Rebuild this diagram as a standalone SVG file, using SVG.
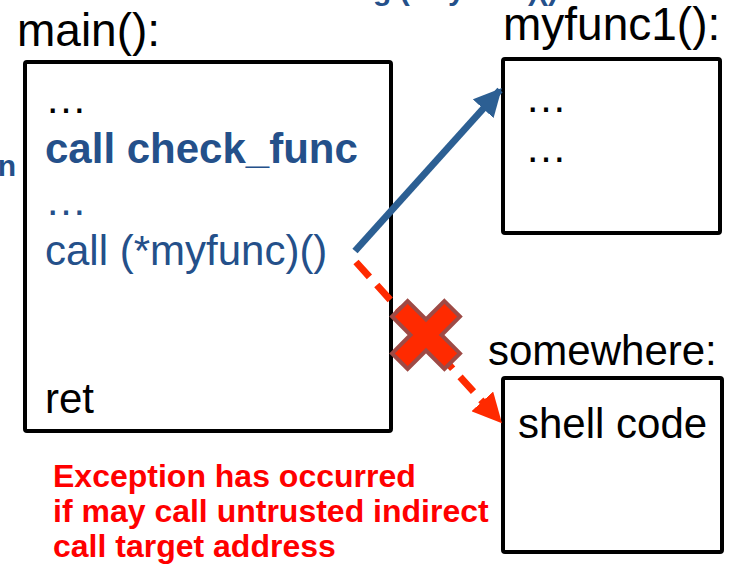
<svg xmlns="http://www.w3.org/2000/svg" width="756" height="567" viewBox="0 0 756 567">
<style>
  .box { fill: #ffffff; stroke: #000000; stroke-width: 4; }
  .lbl { font-family: "Liberation Sans", Arial, sans-serif; font-size: 42px; fill: #000000; }
  .big { font-size: 46px; }
  .code { font-family: "Liberation Sans", Arial, sans-serif; font-size: 42px; fill: #24508A; }
  .bold { font-weight: bold; }
  .warn { font-family: "Liberation Sans", Arial, sans-serif; font-size: 32px; font-weight: bold; fill: #FF0000; }
  .side { font-family: "Liberation Sans", Arial, sans-serif; font-size: 30px; font-weight: bold; fill: #24508A; }
</style>
<defs>
  <marker id="arrBlue" viewBox="0 0 10 10" refX="9" refY="5" markerWidth="4" markerHeight="4" orient="auto" markerUnits="strokeWidth">
    <path d="M0,0 L10,5 L0,10 z" fill="#2C5F93"/>
  </marker>
  <marker id="arrRed" viewBox="0 0 10 10" refX="9" refY="5" markerWidth="4.2" markerHeight="4.2" orient="auto" markerUnits="strokeWidth">
    <path d="M0,0 L10,5 L0,10 z" fill="#FF2A00"/>
  </marker>
</defs>
<rect width="756" height="567" fill="#ffffff"/>

<text class="side" x="558" y="0" text-anchor="end">g (*myfunc)()</text>
<text class="side" x="16" y="176" text-anchor="end">n</text>

<g id="main">
  <text class="lbl big" x="17" y="46">main():</text>
  <rect class="box" x="25" y="62" width="366" height="369" rx="2"/>
  <text class="lbl" x="45" y="113">…</text>
  <text class="code bold" x="45" y="163">call check_func</text>
  <text class="code" x="45" y="215">…</text>
  <text class="code" x="45" y="265">call (*myfunc)()</text>
  <text class="lbl" x="45" y="413">ret</text>
</g>

<g id="myfunc1">
  <text class="lbl big" x="503" y="40">myfunc1():</text>
  <rect class="box" x="503" y="59" width="217" height="174" rx="2"/>
  <text class="lbl" x="525" y="112">…</text>
  <text class="lbl" x="525" y="162">…</text>
</g>

<g id="somewhere">
  <text class="lbl" x="488" y="365">somewhere:</text>
  <rect class="box" x="503" y="378" width="219" height="174" rx="2"/>
  <text class="lbl" x="518" y="438">shell code</text>
</g>

<g id="connectors">
  <line x1="355" y1="251" x2="500" y2="90" stroke="#2C5F93" stroke-width="7" marker-end="url(#arrBlue)"/>
  <line x1="356" y1="262" x2="500" y2="421" stroke="#FF2A00" stroke-width="7" stroke-dasharray="20,11" marker-end="url(#arrRed)"/>
</g>

<g id="cross" transform="translate(426,335) rotate(45)">
  <polygon points="-11,-37 11,-37 11,-11 37,-11 37,11 11,11 11,37 -11,37 -11,11 -37,11 -37,-11 -11,-11" fill="#FF2A00" stroke="#9E4A45" stroke-width="4" stroke-linejoin="miter"/>
</g>

<g id="note">
  <text class="warn" x="53" y="487">Exception has occurred</text>
  <text class="warn" x="53" y="522">if may call untrusted indirect</text>
  <text class="warn" x="53" y="557">call target address</text>
</g>
</svg>
